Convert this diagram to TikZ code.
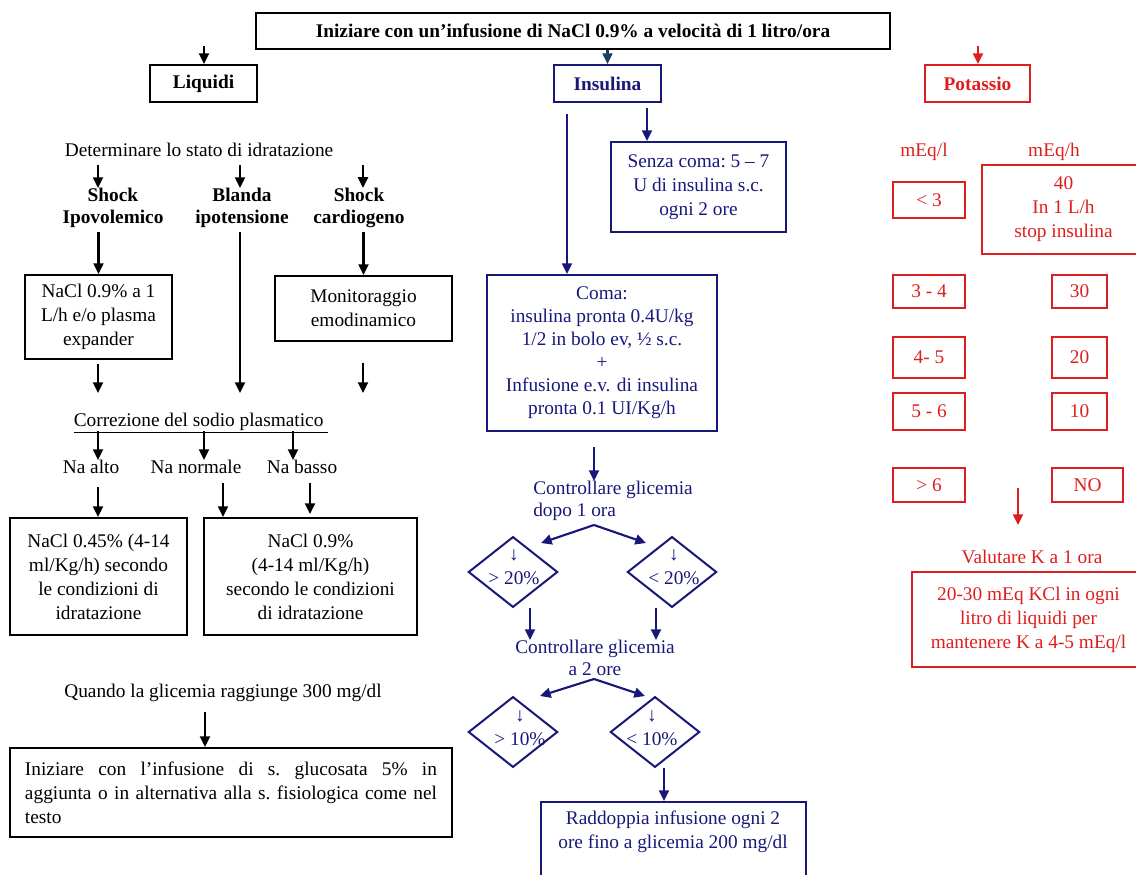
\documentclass[tikz,border=0pt]{standalone}
\usepackage{fontspec}
\setmainfont{Liberation Serif}
\usetikzlibrary{arrows.meta,shapes.geometric}
\definecolor{navy}{RGB}{24,24,122}
\definecolor{deepteal}{RGB}{28,62,96}
\definecolor{kred}{RGB}{222,30,30}
\newcommand\bodyfont{\fontsize{14.5}{18}\selectfont\frenchspacing}
\newcommand\tightfont{\fontsize{14.5}{16.5}\selectfont}
\newcommand\comafont{\fontsize{14.5}{17.3}\selectfont}

\begin{document}
\begin{tikzpicture}[x=0.75pt,y=-0.75pt,
  every node/.style={font=\bodyfont},
  box/.style={draw,line width=1.5pt,inner sep=0pt,align=center},
  sz/.style 2 args={minimum width=#1*0.75pt,minimum height=#2*0.75pt},
  lbl/.style={inner sep=0pt,align=center},
  bold/.style={font=\bodyfont\bfseries},
  boldtight/.style={font=\tightfont\bfseries},
  arr/.style={line width=1.6pt,-{Triangle[length=8pt,width=7.5pt]}},
  dia/.style={draw,diamond,line width=1.5pt,inner sep=0pt,minimum width=67pt,minimum height=53pt},
]
\useasboundingbox (0,0) rectangle (1136,875);

% ---------------- header row
\node[box,bold,line width=1.8pt,sz={634}{36}] (title) at (573,31)
  {Iniziare con un’infusione di NaCl 0.9\% a velocità di 1 litro/ora};
\node[box,bold,sz={107}{37}] (liq) at (203.5,83.5) {Liquidi};
\node[box,bold,navy,sz={107}{37}] (ins) at (607.5,83.5) {Insulina};
\node[box,bold,kred,sz={105}{37}] (pot) at (977.5,83.5) {Potassio};

\coordinate (liqin) at (204,46);
\draw[arr] (liqin) -- (liqin |- liq.north);
\draw[arr,deepteal] (ins.north |- title.south) -- (ins.north);
\coordinate (potin) at (978,46);
\draw[arr,kred] (potin) -- (potin |- pot.north);

% ---------------- Liquidi column
\node[lbl] (stato) at (199,150) {Determinare lo stato di idratazione};
\node[lbl,boldtight] (ipo) at (113,208) {Shock\\Ipovolemico};
\node[lbl,boldtight] (bla) at (242,208) {Blanda\\ipotensione};
\node[lbl,boldtight] (car) at (359,208) {Shock\\cardiogeno};

\coordinate (s1) at (98,165);
\coordinate (s2) at (240,165);
\coordinate (s3) at (363,165);
\draw[arr] (s1) -- (s1 |- ipo.north);
\draw[arr] (s2) -- (s2 |- bla.north);
\draw[arr] (s3) -- (s3 |- car.north);

\node[box,sz={147}{84}] (nacl) at (98.5,317) {NaCl 0.9\% a 1\\L/h e/o plasma\\expander};
\node[box,sz={177}{65}] (mon) at (363.5,308.5) {Monitoraggio\\emodinamico};
\draw[arr,shorten <=3pt] (nacl.north |- ipo.south) -- (nacl.north);
\draw[arr,shorten <=3pt] (mon.north |- car.south) -- (mon.north);
\coordinate (blaend) at (240,393);
\draw[arr,shorten <=3pt] (blaend |- bla.south) -- (blaend);
\coordinate (naclend) at (98,393);
\draw[arr,shorten <=3pt] (nacl.south -| naclend) -- (naclend);
\coordinate (monstart) at (363,363);
\coordinate (monend) at (363,393);
\draw[arr] (monstart) -- (monend);

\node[lbl] (corr) at (201,423) {\underline{Correzione del sodio plasmatico\ }};
\node[lbl] (nahi) at (91,467) {Na alto};
\node[lbl] (nanorm) at (196,467) {Na normale};
\node[lbl] (nalo) at (302,467) {Na basso};
\coordinate (u1) at (98,431);
\coordinate (u2) at (204,431);
\coordinate (u3) at (293,431);
\draw[arr] (u1) -- (u1 |- nahi.north);
\draw[arr] (u2) -- (u2 |- nanorm.north);
\draw[arr] (u3) -- (u3 |- nalo.north);

\node[box,sz={177}{117}] (n045) at (98.5,576.5)
  {NaCl 0.45\% (4-14\\ml/Kg/h) secondo\\le condizioni di\\idratazione};
\node[box,sz={213}{117}] (n09) at (310.5,576.5)
  {NaCl 0.9\%\\(4-14 ml/Kg/h)\\secondo le condizioni\\di idratazione};
\coordinate (h1) at (98,487);
\draw[arr] (h1) -- (h1 |- n045.north);
\coordinate (h2) at (223,483);
\draw[arr] (h2) -- (h2 |- n09.north);
\coordinate (h3) at (310,483);
\coordinate (h3e) at (310,514);
\draw[arr] (h3) -- (h3e);

\node[lbl] (quando) at (223,693) {Quando la glicemia raggiunge 300 mg/dl};
\node[box,sz={442}{89},text width=309pt,align=justify] (gluc) at (231,792.5)
  {Iniziare con l’infusione di s. glucosata 5\% in\linebreak
   aggiunta o in alternativa alla s. fisiologica come nel\linebreak testo};
\coordinate (q) at (205,712);
\draw[arr] (q) -- (q |- gluc.north);

% ---------------- Insulina column
\node[box,navy,sz={175}{90}] (senza) at (698.5,187)
  {Senza coma: 5 – 7\\U di insulina s.c.\\ogni 2 ore};
\node[box,navy,font=\comafont,sz={230}{156}] (coma) at (602,353)
  {Coma:\\insulina pronta 0.4U/kg\\1/2 in bolo ev, ½ s.c.\\+\\Infusione e.v. di insulina\\pronta 0.1 UI/Kg/h};
\coordinate (comain) at (567,114);
\draw[arr,navy] (comain) -- (comain |- coma.north);
\coordinate (senzain) at (647,108);
\draw[arr,navy] (senzain) -- (senzain |- senza.north);

\node[lbl,navy,align=left,anchor=west,font=\tightfont] (ctl1) at (533,501)
  {Controllare glicemia\\dopo 1 ora};
\coordinate (c1) at (594,447);
\draw[arr,navy] (c1) -- (c1 |- ctl1.north);

\node[dia,navy] (p20) at (513,572) {};
\node[dia,navy] (m20) at (672,572) {};
\node[lbl,navy] (p20t) at (514,567) {↓\\> 20\%};
\node[lbl,navy] (m20t) at (674,567) {↓\\< 20\%};
\coordinate (fork1) at (594,525);
\coordinate (f1l) at (541,543);
\coordinate (f1r) at (646,543);
\draw[arr,navy] (fork1) -- (f1l);
\draw[arr,navy] (fork1) -- (f1r);

\node[lbl,navy,font=\tightfont] (ctl2) at (595,658) {Controllare glicemia\\a 2 ore};
\coordinate (g1) at (530,608);
\coordinate (g2) at (656,608);
\draw[arr,navy] (g1) -- (g1 |- ctl2.north);
\draw[arr,navy] (g2) -- (g2 |- ctl2.north);

\node[dia,navy] (p10) at (513,732) {};
\node[dia,navy] (m10) at (655,732) {};
\node[lbl,navy] (p10t) at (520,728) {↓\\> 10\%};
\node[lbl,navy] (m10t) at (652,728) {↓\\< 10\%};
\coordinate (fork2) at (594,679);
\coordinate (f2l) at (540,696);
\coordinate (f2r) at (645,696);
\draw[arr,navy] (fork2) -- (f2l);
\draw[arr,navy] (fork2) -- (f2r);

\node[box,navy,sz={265}{83}] (radd) at (673.5,843.5) {};
\node[lbl,navy] (raddt) at (673,832) {Raddoppia infusione ogni 2\\ore fino a glicemia 200 mg/dl};
\coordinate (m10out) at (664,768);
\draw[arr,navy] (m10out) -- (m10out |- radd.north);

% ---------------- Potassio column
\node[lbl,kred] (ul) at (924,152) {mEq/l};
\node[lbl,kred] (uh) at (1054,152) {mEq/h};
\node[box,kred,sz={72}{36}] (k1) at (929,200) {< 3};
\node[box,kred,sz={72}{33}] (k2) at (929,291.5) {3 - 4};
\node[box,kred,sz={72}{41}] (k3) at (929,357.5) {4- 5};
\node[box,kred,sz={72}{37}] (k4) at (929,411.5) {5 - 6};
\node[box,kred,sz={72}{34}] (k5) at (929,485) {> 6};
\node[box,kred,sz={163}{89}] (r1) at (1063.5,209.5) {40\\In 1 L/h\\stop insulina};
\node[box,kred,sz={55}{33}] (r2) at (1079.5,291.5) {30};
\node[box,kred,sz={55}{41}] (r3) at (1079.5,357.5) {20};
\node[box,kred,sz={55}{37}] (r4) at (1079.5,411.5) {10};
\node[box,kred,sz={71}{34}] (r5) at (1087.5,485) {NO};
\coordinate (kv) at (1018,488);
\coordinate (kve) at (1018,525);
\draw[arr,kred] (kv) -- (kve);
\node[lbl,kred] (val) at (1032,557) {Valutare K a 1 ora};
\node[box,kred,sz={233}{95}] (kcl) at (1028.5,619.5)
  {20-30 mEq KCl in ogni\\litro di liquidi per\\mantenere K a 4-5 mEq/l};
\end{tikzpicture}
\end{document}
